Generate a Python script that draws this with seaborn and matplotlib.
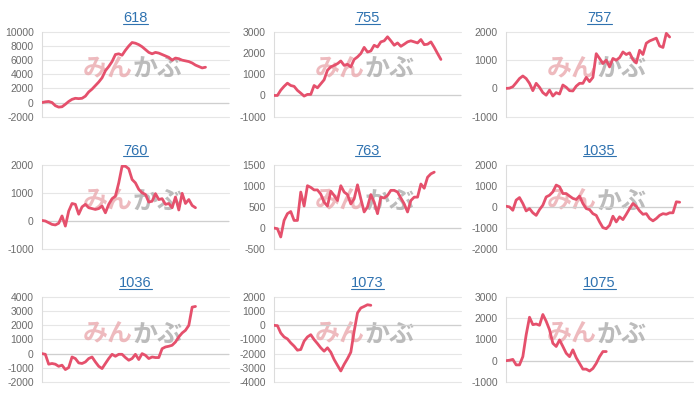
import numpy as np
import pandas as pd
import matplotlib.pyplot as plt
import seaborn as sns
from matplotlib.lines import Line2D

# Panel titles (stock codes) and daily cumulative values
titles = ["618", "755", "757", "760", "763", "1035", "1036", "1073", "1075"]

s618 = [0, 100, 150, 0, -450, -650, -600, -250, 150, 450, 600, 550, 600, 900, 1500,
        1900, 2400, 2900, 3500, 4500, 5100, 5800, 6800, 6900, 6700, 7400, 8000, 8500,
        8400, 8200, 7900, 7500, 7100, 6900, 7100, 7000, 6800, 6600, 6400, 6000, 6300,
        6200, 6000, 5900, 5800, 5600, 5300, 5100, 4900, 5000]
s755 = [0, 0, 250, 430, 580, 470, 430, 240, 110, -30, 50, 50, 470, 360, 550, 740,
        1190, 1350, 1420, 1500, 1630, 1420, 1470, 1350, 1700, 1820, 1980, 2270, 2050,
        2100, 2370, 2290, 2530, 2580, 2770, 2580, 2370, 2480, 2320, 2420, 2530, 2580,
        2530, 2480, 2640, 2400, 2420, 2530, 2270, 1980, 1700]
s757 = [0, 10, 60, 200, 350, 440, 350, 180, -80, 180, 40, -150, -240, -60, -270,
        -150, -200, 120, 40, -80, -90, 80, 180, 180, 390, 240, 390, 1230, 1060, 880,
        1000, 760, 1060, 1000, 1090, 1290, 1200, 1260, 1020, 900, 1350, 1200, 1600,
        1680, 1730, 1780, 1500, 1450, 1950, 1820]
s760 = [20, 0, -60, -120, -140, -80, 180, -180, 350, 620, 590, 240, 500, 590, 470,
        440, 410, 440, 530, 290, 590, 790, 880, 1350, 1940, 1940, 1850, 1470, 1350,
        1120, 1000, 940, 670, 700, 970, 760, 790, 590, 620, 470, 850, 390, 980, 620,
        760, 550, 470]
s763 = [0, -15, -210, 180, 340, 390, 180, 180, 850, 520, 1000, 960, 900, 900, 800,
        610, 520, 870, 770, 650, 1000, 850, 790, 570, 690, 1020, 690, 380, 500, 790,
        610, 340, 730, 710, 770, 890, 890, 850, 710, 570, 380, 650, 730, 730, 1040,
        940, 1200, 1280, 1320]
s1035 = [30, 0, -160, 320, 440, 160, -190, -80, -280, -400, -130, 80, 470, 550, 710,
         1030, 950, 630, 630, 510, 400, 350, 510, 160, -80, -130, -320, -400, -710,
         -980, -1030, -870, -440, -710, -470, -600, -350, -80, 160, 30, -190, -350,
         -320, -550, -660, -550, -400, -320, -350, -280, -280, 240, 220]
s1036 = [0, -50, -750, -700, -750, -900, -820, -1130, -990, -240, -350, -660, -700,
         -590, -350, -240, -590, -900, -1060, -700, -350, -50, -190, -50, -50, -280,
         -470, -350, -50, -420, 0, -120, -350, -240, -280, -280, 350, 470, 520, 590,
         820, 1180, 1460, 1650, 2000, 3290, 3340]
s1073 = [0, -20, -540, -820, -960, -1240, -1470, -1760, -1710, -1120, -820, -660,
         -1010, -1290, -1590, -1830, -1590, -1900, -2420, -2830, -3230, -2760, -2360,
         -1900, -420, 880, 1230, 1340, 1460, 1420]
s1075 = [0, 20, 60, -200, -200, 190, 1220, 2050, 1700, 1730, 1670, 2180, 1860, 1460,
         820, 670, 980, 670, 350, 190, 510, 140, -130, -400, -400, -490, -370, -130,
         190, 430, 430]

series = [s618, s755, s757, s760, s763, s1035, s1036, s1073, s1075]

# y axis (min, max, step) for each panel
y_axes = [(-2000, 10000, 2000), (-1000, 3000, 1000), (-1000, 2000, 1000),
          (-1000, 2000, 1000), (-500, 1500, 500), (-2000, 2000, 1000),
          (-2000, 4000, 1000), (-4000, 2000, 1000), (-1000, 3000, 1000)]

n_days = 56

sns.set_theme(style="white")
plt.rcParams['font.family'] = ['Liberation Sans', 'DejaVu Sans']
plt.rcParams['axes.unicode_minus'] = False

line_color = "#e5506c"
title_color = "#2f72b0"

fig, axes = plt.subplots(3, 3, figsize=(7, 3.99), dpi=100)
fig.subplots_adjust(left=0.06, right=0.99, top=0.92, bottom=0.043,
                    wspace=0.242, hspace=0.565)

for ax, title, vals, (lo, hi, step) in zip(axes.flat, titles, series, y_axes):
    df = pd.DataFrame({"day": range(len(vals)), "value": vals})

    # watermark logo
    ax.text(0.485, 0.56, "みん", transform=ax.transAxes, ha="right", va="center",
            fontsize=18, fontweight="bold", color="#eaa9ae", alpha=0.8,
            family=["Noto Sans CJK JP"], zorder=1)
    ax.text(0.485, 0.56, "かぶ", transform=ax.transAxes, ha="left", va="center",
            fontsize=18, fontweight="bold", color="#ababab", alpha=0.8,
            family=["Noto Sans CJK JP"], zorder=1)

    ax.axhline(0, color="#cfcfcf", lw=0.9, zorder=1.5)
    sns.lineplot(data=df, x="day", y="value", ax=ax, color=line_color,
                 lw=2.0, zorder=3)

    ax.set_xlim(0, n_days)
    ax.set_ylim(lo, hi)
    ax.set_yticks(np.arange(lo, hi + 1, step))
    ax.set_xticks([])
    ax.grid(axis="y", color="#e6e6e6", lw=0.8)
    for g in ax.get_ygridlines():
        g.set_clip_on(False)
    for side in ["top", "right", "bottom"]:
        ax.spines[side].set_visible(False)
    ax.spines["left"].set_color("#dcdcdc")
    ax.spines["left"].set_linewidth(0.8)
    ax.set_xlabel("")
    ax.set_ylabel("")
    ax.tick_params(axis="y", length=0, pad=6, labelsize=7.5, labelcolor="#6b6b6b")
    ax.set_title(title, color=title_color, fontsize=10.5, pad=7)

# underline the titles like links
fig.canvas.draw()
renderer = fig.canvas.get_renderer()
inv = fig.transFigure.inverted()
for ax in axes.flat:
    bb = ax.title.get_window_extent(renderer)
    (x0, y0), (x1, _) = inv.transform([[bb.x0, bb.y0 + 1.5], [bb.x1, bb.y0]])
    fig.add_artist(Line2D([x0, x1], [y0, y0], color=title_color, lw=0.8))

plt.savefig("out.png", dpi=100)
plt.close()
